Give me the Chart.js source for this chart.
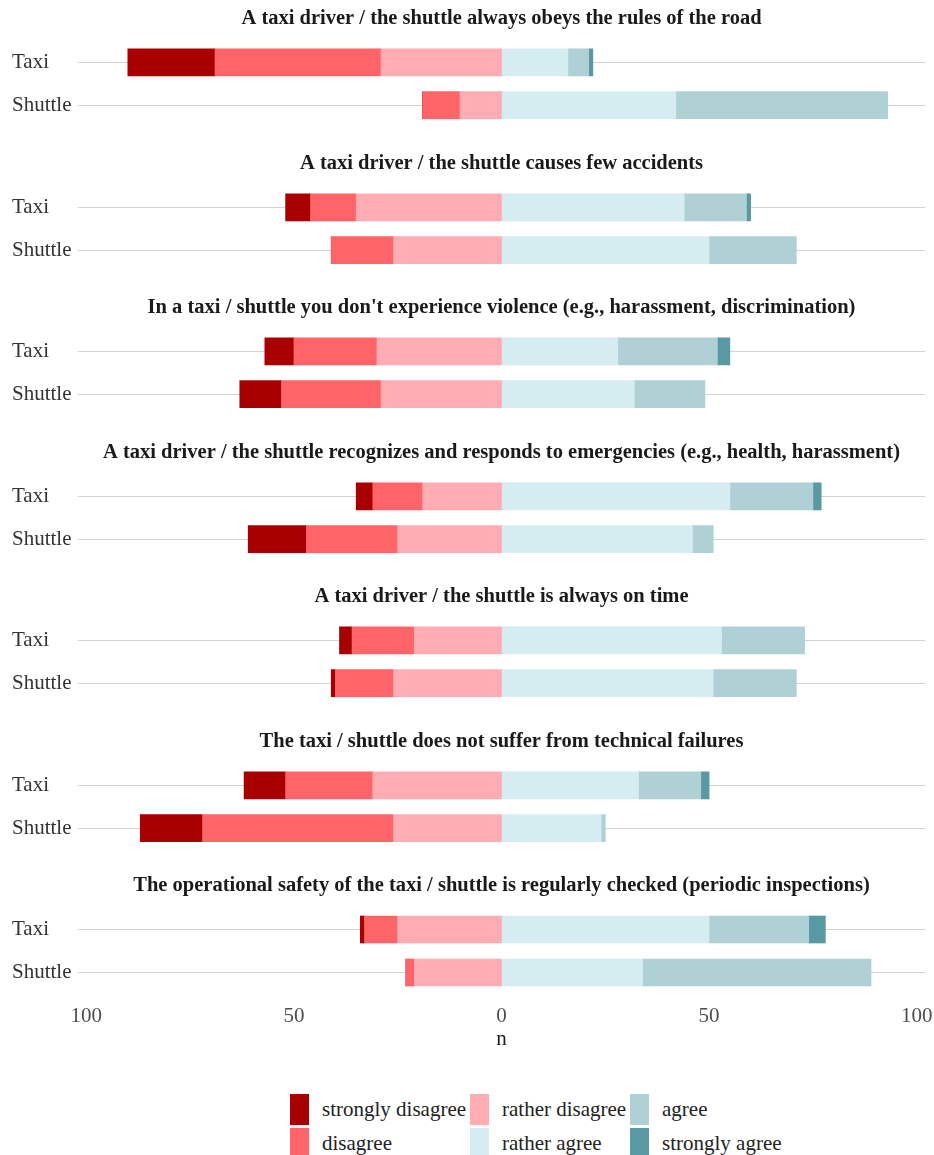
<!DOCTYPE html>
<html>
<head>
<meta charset="utf-8">
<script src="https://cdn.jsdelivr.net/npm/chart.js@4"></script>
<style>
  body { margin: 0; background: #fff; }
  #wrap { position: relative; width: 934px; height: 1155px; overflow: hidden; }
  .facet { position: absolute; left: 0; width: 934px; }
  .key { position: absolute; font-family: "Liberation Serif", serif; font-size: 21px; color: #222; }
  .sw { position: absolute; width: 19px; height: 31px; }
  .lab { position: absolute; white-space: nowrap; line-height: 31px; }
</style>
</head>
<body>
<div id="wrap"></div>
<script>
// statements (facet titles)
const questions = [
  "A taxi driver / the shuttle always obeys the rules of the road",
  "A taxi driver / the shuttle causes few accidents",
  "In a taxi / shuttle you don't experience violence (e.g., harassment, discrimination)",
  "A taxi driver / the shuttle recognizes and responds to emergencies (e.g., health, harassment)",
  "A taxi driver / the shuttle is always on time",
  "The taxi / shuttle does not suffer from technical failures",
  "The operational safety of the taxi / shuttle is regularly checked (periodic inspections)"
];
const groups = ["Taxi", "Shuttle"];
const levels = ["strongly disagree", "disagree", "rather disagree", "rather agree", "agree", "strongly agree"];
const levelColors = ["#a80000", "#ff6469", "#ffadb3", "#d5ecf0", "#afd0d4", "#5899a3"];

// counts per statement, [Taxi, Shuttle]
const stronglyDisagree = [[21, 0], [6, 0], [7, 10], [4, 14], [3, 1], [10, 15], [1, 0]];
const disagree         = [[40, 9], [11, 15], [20, 24], [12, 22], [15, 14], [21, 46], [8, 2]];
const ratherDisagree   = [[29, 10], [35, 26], [30, 29], [19, 25], [21, 26], [31, 26], [25, 21]];
const ratherAgree      = [[16, 42], [44, 50], [28, 32], [55, 46], [53, 51], [33, 24], [50, 34]];
const agree            = [[5, 51], [15, 21], [24, 17], [20, 5], [20, 20], [15, 1], [24, 55]];
const stronglyAgree    = [[1, 0], [1, 0], [3, 0], [2, 0], [0, 0], [2, 0], [4, 0]];

const xTicks = [-100, -50, 0, 50, 100];

const serif = "'Liberation Serif', 'Times New Roman', serif";
const wrap = document.getElementById("wrap");

// draws the strip title centred over the panel
const facetTitle = {
  id: "facetTitle",
  afterDraw(chart, args, opts) {
    const ctx = chart.ctx;
    const a = chart.chartArea;
    ctx.save();
    ctx.font = "bold 20.5px " + serif;
    ctx.fillStyle = "#1a1a1a";
    ctx.textAlign = "center";
    ctx.textBaseline = "middle";
    ctx.fillText(opts.text, (a.left + a.right) / 2, 18);
    ctx.restore();
  }
};

// stacking goes outward from zero, so the nearest level comes first
const stackOrder = [
  {idx: 2, vals: ratherDisagree, sign: -1},
  {idx: 1, vals: disagree, sign: -1},
  {idx: 0, vals: stronglyDisagree, sign: -1},
  {idx: 3, vals: ratherAgree, sign: 1},
  {idx: 4, vals: agree, sign: 1},
  {idx: 5, vals: stronglyAgree, sign: 1}
];

questions.forEach((q, i) => {
  const last = i === questions.length - 1;
  const div = document.createElement("div");
  div.className = "facet";
  div.style.top = (Math.round(i * 144.5) + 1) + "px";
  const h = last ? 184 : 126;
  div.style.height = h + "px";
  const cv = document.createElement("canvas");
  div.appendChild(cv);
  wrap.appendChild(div);

  const datasets = stackOrder.map(s => ({
    label: levels[s.idx],
    data: s.vals[i].map(v => s.sign * v),
    backgroundColor: levelColors[s.idx],
    borderWidth: 0,
    barThickness: 27
  }));

  new Chart(cv, {
    type: "bar",
    data: {labels: groups, datasets: datasets},
    plugins: [facetTitle],
    options: {
      indexAxis: "y",
      responsive: true,
      maintainAspectRatio: false,
      animation: false,
      layout: {padding: {top: 40, left: 12, right: 9, bottom: 0}},
      plugins: {
        legend: {display: false},
        tooltip: {enabled: false},
        facetTitle: {text: q}
      },
      scales: {
        x: {
          type: "linear",
          stacked: true,
          min: -102,
          max: 102,
          display: last,
          afterBuildTicks: sc => { sc.ticks = xTicks.map(v => ({value: v})); },
          afterFit: sc => {
            sc.height = last ? 58 : 0;
            sc.paddingLeft = 0;
            sc.paddingRight = 0;
          },
          grid: {display: false, drawTicks: false},
          border: {display: false},
          ticks: {
            padding: 10,
            color: "#4d4d4d",
            font: {family: serif, size: 21, lineHeight: 1.15},
            callback: v => Math.abs(v)
          },
          title: {
            display: true,
            text: "n",
            color: "#1a1a1a",
            padding: {top: 0, bottom: 0},
            font: {family: serif, size: 21, lineHeight: 1.15}
          }
        },
        y: {
          stacked: true,
          afterFit: sc => { sc.width = 66; },
          grid: {offset: false, color: "#d3d3d3", lineWidth: 1, drawTicks: false},
          border: {display: false},
          ticks: {
            crossAlign: "far",
            padding: 0,
            color: "#333",
            font: {family: serif, size: 21, lineHeight: 0.05}
          }
        }
      }
    }
  });
});

// legend, filled column by column like the original
const colX = [290, 470, 630];
const rowY = [1094, 1128];
levels.forEach((lv, k) => {
  const c = Math.floor(k / 2), r = k % 2;
  const item = document.createElement("div");
  item.className = "key";
  item.style.left = colX[c] + "px";
  item.style.top = rowY[r] + "px";
  item.innerHTML = '<div class="sw" style="left:0;top:0;background:' + levelColors[k] + '"></div>' +
    '<div class="lab" style="left:32px;top:0">' + lv + '</div>';
  wrap.appendChild(item);
});
</script>
</body>
</html>
